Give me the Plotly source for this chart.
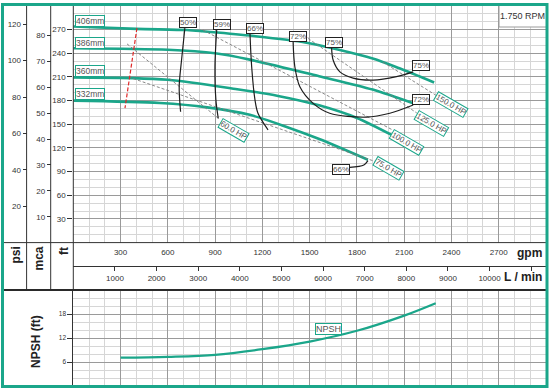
import plotly.graph_objects as go

# ---------------- data ----------------
gpm_406 = [0, 400, 720, 820, 1120, 1480, 1900, 2070, 2290]
ft_406 = [274, 271, 269.5, 268, 262.5, 253.5, 233.5, 221, 203]
gpm_386 = [0, 600, 900, 1120, 1560, 1900, 2165]
ft_386 = [246.5, 244.5, 240, 232, 211, 194, 176]
gpm_360 = [0, 600, 1040, 1300, 1560, 1800, 2020]
ft_360 = [209.5, 206.5, 194.5, 186, 174, 158, 136.5]
gpm_332 = [0, 550, 850, 1120, 1350, 1565, 1870]
ft_332 = [180, 177, 171.5, 162, 147, 131, 105]
impeller_names = ["406mm", "386mm", "360mm", "332mm"]

eff50_gpm = [708, 687, 672, 681]
eff50_ft = [272, 231.5, 197.5, 166]
eff59_gpm = [910, 899, 905, 920]
eff59_ft = [269.5, 223, 181, 157.5]
eff66_gpm = [1121, 1132, 1153, 1172, 1236]
eff66_ft = [266, 223, 181, 164, 143]
eff72_gpm = [1395, 1406, 1438, 1522, 1627, 1861, 2009, 2157]
eff72_ft = [254.5, 223, 197.5, 176.5, 164, 159, 164, 174.5]
eff75_gpm = [1639, 1649, 1692, 1776, 1903, 2051, 2157]
eff75_ft = [248.5, 231.5, 216.5, 208.5, 206, 210.5, 216.5]
eff66b_gpm = [1755, 1844, 1870]
eff66b_ft = [95.5, 98.5, 104]

hp60_gpm = [341, 924]
hp60_ft = [252, 157]
hp75_gpm = [350, 1914]
hp75_ft = [210, 103]
hp100_gpm = [823, 2028]
hp100_ft = [269.5, 142.7]
hp125_gpm = [1438, 2180]
hp125_ft = [266, 164.3]
hp150_gpm = [1964, 2300]
hp150_ft = [229, 187]

minflow_gpm = [404, 328]
minflow_ft = [272, 170.5]

npsh_gpm = [300, 600, 900, 1200, 1500, 1800, 2100, 2300]
npsh_ft = [7.1, 7.3, 7.8, 9.2, 11.1, 13.8, 17.6, 20.7]

gpm_ticks = [300, 600, 900, 1200, 1500, 1800, 2100, 2400, 2700]
lmin_ticks = [1000, 2000, 3000, 4000, 5000, 6000, 7000, 8000, 9000, 10000, 11000]
lmin_text = ["1000", "2000", "3000", "4000", "5000", "6000", "7000", "8000", "9000", "10000", ""]
ft_ticks = [30, 60, 90, 120, 150, 180, 210, 240, 270]
psi_ticks = [20, 40, 60, 80, 100, 120]
mca_ticks = [10, 20, 30, 40, 50, 60, 70, 80]
npsh_ticks = [6, 12, 18]

# ---------------- layout helpers ----------------
W, H = 554, 391
ML, MR, MT, MB = 3, 8, 6, 5
PW = W - ML - MR
PH = H - MT - MB
FONT = "Arial, Liberation Sans, sans-serif"
TEAL = "#1ba68a"
GRID = "#9a9a9a"
MINOR = "#d6d6d6"
DARK = "#333333"


def px(x):
    return (x - ML) / PW


def py(y):
    return (H - MB - y) / PH


XDOM = [px(73.3), 1.0]
MAIN_Y = [py(242.6), 1.0]
NPSH_Y = [0.0, py(290)]

fig = go.Figure()

# pump curves
for q, h in [(gpm_406, ft_406), (gpm_386, ft_386), (gpm_360, ft_360), (gpm_332, ft_332)]:
    fig.add_trace(go.Scatter(x=q, y=h, mode="lines", line=dict(color=TEAL, width=2.6, shape="spline", smoothing=0.8),
                             hoverinfo="skip", showlegend=False))

# HP lines
for q, h in [(hp60_gpm, hp60_ft), (hp75_gpm, hp75_ft), (hp100_gpm, hp100_ft), (hp125_gpm, hp125_ft), (hp150_gpm, hp150_ft)]:
    fig.add_trace(go.Scatter(x=q, y=h, mode="lines", line=dict(color="#7a7a7a", width=0.9, dash="3px,2px", shape="spline"),
                             hoverinfo="skip", showlegend=False))

# efficiency curves
for q, h in [(eff50_gpm, eff50_ft), (eff59_gpm, eff59_ft), (eff66_gpm, eff66_ft), (eff72_gpm, eff72_ft),
             (eff75_gpm, eff75_ft), (eff66b_gpm, eff66b_ft)]:
    fig.add_trace(go.Scatter(x=q, y=h, mode="lines", line=dict(color="#1e1e1e", width=1.2, shape="spline", smoothing=0.9),
                             hoverinfo="skip", showlegend=False))

# minimum flow line
fig.add_trace(go.Scatter(x=minflow_gpm, y=minflow_ft, mode="lines", line=dict(color="#e02828", width=1.2, dash="4px,2px"),
                         hoverinfo="skip", showlegend=False))

# NPSH
fig.add_trace(go.Scatter(x=npsh_gpm, y=npsh_ft, xaxis="x2", yaxis="y4", mode="lines",
                         line=dict(color=TEAL, width=2.2, shape="spline"), hoverinfo="skip", showlegend=False))

# carriers for extra axes
fig.add_trace(go.Scatter(x=[None], y=[None], xaxis="x3", yaxis="y", showlegend=False, hoverinfo="skip"))
fig.add_trace(go.Scatter(x=[None], y=[None], xaxis="x", yaxis="y2", showlegend=False, hoverinfo="skip"))
fig.add_trace(go.Scatter(x=[None], y=[None], xaxis="x", yaxis="y3", showlegend=False, hoverinfo="skip"))

minor_x = [v for v in range(100, 3000, 100) if v % 300]
minor_y = [v for v in range(10, 300, 10) if v % 30]
minor_n = [v for v in range(2, 24, 2) if v % 6]

tickfont = dict(family=FONT, size=8, color=DARK)

fig.update_layout(
    width=W, height=H, margin=dict(l=ML, r=MR, t=MT, b=MB),
    paper_bgcolor="white", plot_bgcolor="white",
    font=dict(family=FONT),
    xaxis=dict(domain=XDOM, anchor="y", range=[0, 3000], tickmode="array", tickvals=gpm_ticks,
               ticktext=[str(v) for v in gpm_ticks], ticks="outside", ticklen=2, tickcolor="rgba(0,0,0,0)",
               tickfont=tickfont,
               showgrid=True, gridcolor=GRID, gridwidth=1, zeroline=False, showline=False,
               minor=dict(tickmode="array", tickvals=minor_x, showgrid=True, gridcolor=MINOR, gridwidth=1.3, ticks="")),
    yaxis=dict(domain=MAIN_Y, anchor="x", range=[0, 300], tickmode="array", tickvals=ft_ticks,
               ticks="outside", ticklen=5, tickcolor=DARK, tickfont=tickfont,
               showgrid=True, gridcolor=GRID, gridwidth=1, zeroline=False, showline=False,
               minor=dict(tickmode="array", tickvals=minor_y, showgrid=True, gridcolor=MINOR, gridwidth=1, ticks="")),
    yaxis2=dict(overlaying="y", anchor="free", position=px(26.6), side="left", range=[0, 300 / 2.307],
                tickmode="array", tickvals=psi_ticks, ticks="outside", ticklen=4, tickcolor=DARK,
                tickfont=tickfont, showgrid=False, zeroline=False, showline=False),
    yaxis3=dict(overlaying="y", anchor="free", position=px(50.7), side="left", range=[0, 300 / 3.2808],
                tickmode="array", tickvals=mca_ticks, ticks="outside", ticklen=4, tickcolor=DARK,
                tickfont=tickfont, showgrid=False, zeroline=False, showline=False),
    xaxis3=dict(overlaying="x", anchor="free", position=py(266), side="bottom", range=[0, 3000 * 3.78541],
                tickmode="array", tickvals=lmin_ticks, ticktext=lmin_text, ticks="outside", ticklen=4,
                tickcolor=DARK, tickfont=tickfont, showgrid=False, zeroline=False,
                showline=True, linecolor=DARK, linewidth=1),
    xaxis2=dict(domain=XDOM, anchor="y4", matches="x", range=[0, 3000], tickmode="array", tickvals=gpm_ticks,
                showticklabels=False, ticks="", showgrid=True, gridcolor=GRID, gridwidth=1, zeroline=False,
                minor=dict(tickmode="array", tickvals=minor_x, showgrid=True, gridcolor=MINOR, gridwidth=1.3, ticks="")),
    yaxis4=dict(domain=NPSH_Y, anchor="x2", range=[0, 24], tickmode="array", tickvals=npsh_ticks,
                ticks="outside", ticklen=5, tickcolor=DARK, tickfont=dict(family=FONT, size=6.5, color=DARK),
                showgrid=True, gridcolor=GRID, gridwidth=1, zeroline=False, showline=True, linecolor=DARK,
                minor=dict(tickmode="array", tickvals=minor_n, showgrid=True, gridcolor=MINOR, gridwidth=1, ticks="")),
)

shapes = []


def pline(x0, y0, x1, y1, color=DARK, width=1):
    shapes.append(dict(type="line", xref="paper", yref="paper", x0=px(x0), y0=py(y0), x1=px(x1), y1=py(y1),
                       line=dict(color=color, width=width)))


# RPM box (white patch over the grid)
shapes.append(dict(type="rect", xref="paper", yref="paper", x0=px(499), y0=py(27), x1=px(546), y1=py(5),
                   fillcolor="white", line=dict(width=0), layer="above"))
pline(499, 5, 499, 27, "#9a9a9a", 1)
pline(499, 27, 546, 27, "#9a9a9a", 1)
# left axes lines
pline(26.6, 5, 26.6, 290)
pline(50.7, 5, 50.7, 290)
pline(73.3, 5, 73.3, 290)
# horizontal separators
pline(3, 242.6, 546, 242.6)
pline(3, 290, 547, 290, "#2a2a2a", 2)
# teal frame
pline(2.5, 4.5, 548, 4.5, TEAL, 3)
pline(2.5, 386.5, 548, 386.5, TEAL, 3)
pline(2.5, 3, 2.5, 388, TEAL, 3)
pline(547, 3, 547, 388, TEAL, 3)
fig.update_layout(shapes=shapes)

ann = []


def box(text, x, y, border, size=8.5, angle=0, xref="x", yref="y"):
    ann.append(dict(text=text, x=x, y=y, xref=xref, yref=yref, showarrow=False,
                    font=dict(family=FONT, size=size, color="#555555"), bgcolor="white",
                    bordercolor=border, borderwidth=1, borderpad=0, textangle=angle,
                    xanchor="center", yanchor="middle"))


# impeller labels
for name, yv in zip(impeller_names, [281, 253.7, 217.6, 188.4]):
    box(name, 106, yv, TEAL)
# efficiency labels
for t, xv, yv in [("50%", 727, 279), ("59%", 941, 276), ("66%", 1150, 271.7), ("72%", 1427, 261.7),
                  ("75%", 1652, 253.7), ("75%", 2205, 224), ("72%", 2205, 182), ("66%", 1701, 93.3)]:
    box(t, xv, yv, "#222222", size=8)
# HP labels
for t, xv, yv in [("60.0 HP", 1018, 142.1), ("75.0 HP", 2002, 94.2), ("100.0 HP", 2115, 126.9),
                  ("125.0 HP", 2273, 151.3), ("150.0 HP", 2394, 174.5)]:
    box(t, xv, yv, TEAL, size=8, angle=30)
# NPSH label
box("NPSH", 1617, 14.25, TEAL, size=9, xref="x2", yref="y4")


def txt(text, x, y, size=12, bold=True, angle=0, xanchor="center", yanchor="middle", color="#222222"):
    ann.append(dict(text=("<b>%s</b>" % text) if bold else text, x=px(x), y=py(y), xref="paper", yref="paper",
                    showarrow=False, textangle=angle, xanchor=xanchor, yanchor=yanchor,
                    font=dict(family=FONT, size=size, color=color)))


txt("psi", 15, 245, angle=-90, yanchor="top")
txt("mca", 38.5, 245, angle=-90, yanchor="top")
txt("ft", 64, 245, angle=-90, yanchor="top")
txt("NPSH (ft)", 36, 342, angle=-90)
txt("gpm", 529, 252.5)
txt("L / min", 523, 277)
txt("1.750 RPM", 522, 16, size=9, bold=False, color="#333333")

fig.update_layout(annotations=ann)
fig.write_html("out.html", config={"displayModeBar": False},
               post_script="document.body.style.margin='0';document.body.style.overflow='hidden';")
